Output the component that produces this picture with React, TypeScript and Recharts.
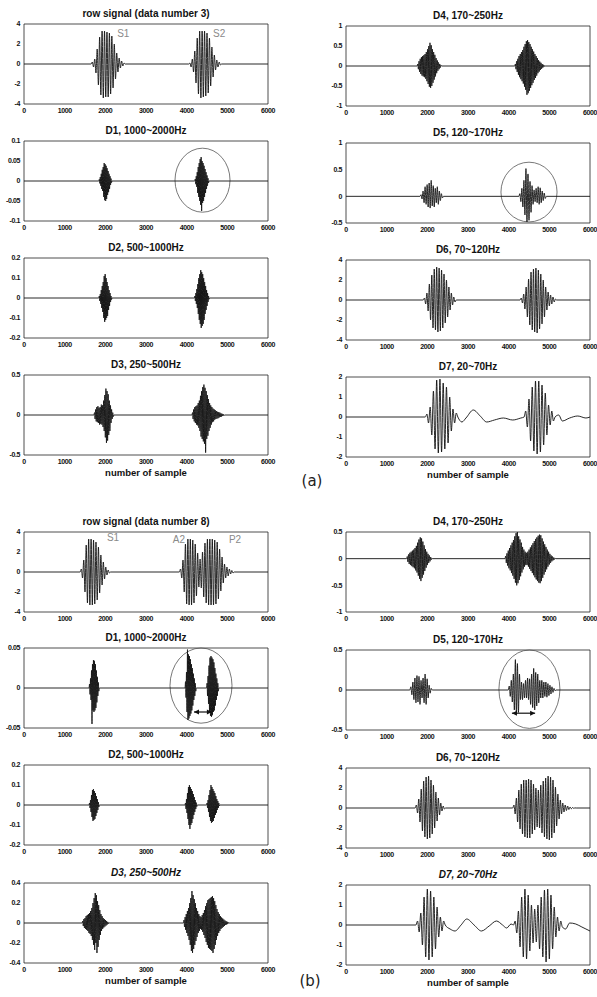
import { LineChart, Line, XAxis, YAxis, ReferenceArea, ReferenceLine, ReferenceDot } from 'recharts'

// [first sample, sample step]
type Burst = [number, number, number[]]
type Pt = [number, number]

const X_TICKS = [0, 1000, 2000, 3000, 4000, 5000, 6000]

// ---------- (a) data number 3 ----------
const rawA: Burst[] = [
  [1650, 30, [0, 0.2, -0.3, 0.5, -0.9, 1.5, -2.1, 2.7, -3.1, 3.3, -3.4, 3.3, -3.3, 3.2, -3.3, 3.1, -3.0, 2.8, -2.4, 2.0, -1.5, 1.1, -0.8, 0.6, -0.4, 0.3, -0.2, 0.1, 0]],
  [4050, 30, [0, 0.1, -0.3, 0.5, -0.8, 1.3, -1.9, 2.6, -3.0, 3.3, -3.4, 3.3, -3.3, 3.3, -3.2, 3.1, -2.9, 2.6, -2.2, 1.7, -1.3, 0.9, -0.6, 0.4, -0.3, 0.2, -0.1, 0]],
]
const d1A: Burst[] = [
  [1840, 12, [0, 0.004, -0.006, 0.01, -0.012, 0.018, -0.02, 0.028, -0.025, 0.035, -0.04, 0.045, -0.048, 0.042, -0.05, 0.038, -0.045, 0.032, -0.035, 0.025, -0.028, 0.018, -0.02, 0.012, -0.01, 0.006, -0.004, 0]],
  [4200, 12, [0, 0.005, -0.008, 0.012, -0.015, 0.022, -0.03, 0.035, -0.04, 0.045, -0.05, 0.055, -0.06, 0.06, -0.075, 0.05, -0.055, 0.045, -0.05, 0.038, -0.04, 0.03, -0.03, 0.022, -0.02, 0.014, -0.012, 0.007, -0.005, 0]],
]
const d2A: Burst[] = [
  [1840, 12, [0, 0.01, -0.015, 0.02, -0.03, 0.04, -0.05, 0.06, -0.07, 0.08, -0.1, 0.11, -0.12, 0.12, -0.11, 0.1, -0.1, 0.08, -0.09, 0.06, -0.06, 0.04, -0.04, 0.025, -0.02, 0.01, -0.008, 0]],
  [4190, 12, [0, 0.01, -0.015, 0.025, -0.03, 0.045, -0.05, 0.07, -0.08, 0.1, -0.11, 0.12, -0.13, 0.14, -0.15, 0.13, -0.14, 0.12, -0.13, 0.1, -0.11, 0.08, -0.08, 0.06, -0.06, 0.04, -0.04, 0.025, -0.02, 0.01, -0.006, 0]],
]
const d3A: Burst[] = [
  [1720, 14, [0, 0.03, -0.05, 0.07, -0.08, 0.1, -0.09, 0.11, -0.1, 0.09, -0.12, 0.1, -0.11, 0.13, -0.12, 0.12, -0.15, 0.18, -0.2, 0.25, -0.28, 0.33, -0.35, 0.3, -0.32, 0.26, -0.25, 0.18, -0.2, 0.12, -0.1, 0.07, -0.05, 0.03, -0.02, 0]],
  [4130, 14, [0, 0.03, -0.05, 0.07, -0.08, 0.1, -0.1, 0.11, -0.12, 0.12, -0.13, 0.15, -0.16, 0.18, -0.2, 0.24, -0.27, 0.3, -0.3, 0.35, -0.33, 0.38, -0.36, 0.34, -0.47, 0.3, -0.3, 0.25, -0.26, 0.2, -0.2, 0.15, -0.16, 0.12, -0.12, 0.1, -0.09, 0.08, -0.08, 0.07, -0.06, 0.06, -0.05, 0.05, -0.045, 0.04, -0.04, 0.035, -0.03, 0.03, -0.025, 0.02, -0.02, 0.015, -0.012, 0.01, -0.008, 0]],
]
const d4A: Burst[] = [
  [1750, 15, [0, 0.05, -0.08, 0.12, -0.15, 0.18, -0.2, 0.22, -0.24, 0.25, -0.26, 0.27, -0.28, 0.3, -0.32, 0.35, -0.38, 0.42, -0.45, 0.5, -0.52, 0.58, -0.55, 0.52, -0.5, 0.42, -0.42, 0.35, -0.34, 0.28, -0.26, 0.2, -0.18, 0.14, -0.12, 0.09, -0.08, 0.05, -0.04, 0.02, 0]],
  [4150, 15, [0, 0.05, -0.08, 0.12, -0.15, 0.18, -0.22, 0.25, -0.28, 0.3, -0.33, 0.35, -0.38, 0.4, -0.44, 0.48, -0.52, 0.55, -0.6, 0.62, -0.72, 0.65, -0.68, 0.6, -0.62, 0.55, -0.55, 0.48, -0.48, 0.42, -0.42, 0.36, -0.35, 0.3, -0.3, 0.25, -0.24, 0.2, -0.18, 0.15, -0.14, 0.11, -0.1, 0.08, -0.07, 0.05, -0.04, 0.03, -0.02, 0.01, 0]],
]
const d5A: Burst[] = [
  [1820, 25, [0, 0.03, -0.05, 0.1, -0.12, 0.18, -0.15, 0.22, -0.2, 0.25, -0.22, 0.3, -0.18, 0.2, -0.2, 0.15, -0.12, 0.18, -0.15, 0.1, -0.08, 0.05, -0.03, 0]],
  [4250, 25, [0, 0.05, -0.1, 0.15, -0.2, 0.3, -0.35, 0.52, -0.48, 0.42, -0.45, 0.28, -0.3, 0.2, -0.15, 0.12, -0.1, 0.15, -0.12, 0.18, -0.15, 0.16, -0.12, 0.1, -0.08, 0.06, -0.04, 0]],
]
const d6A: Burst[] = [
  [1900, 30, [0, 0.2, -0.4, 0.7, -1.1, 1.6, -2.0, 2.5, -2.8, 3.1, -3.0, 3.3, -3.2, 3.2, -3.1, 3.0, -2.8, 2.6, -2.3, 2.0, -1.7, 1.3, -1.0, 0.7, -0.5, 0.3, -0.2, 0]],
  [4280, 30, [0, 0.2, -0.3, 0.6, -0.9, 1.3, -1.7, 2.1, -2.5, 2.8, -3.0, 3.1, -3.2, 3.2, -3.3, 3.0, -2.9, 2.6, -2.4, 2.0, -1.7, 1.3, -1.0, 0.8, -0.6, 0.5, -0.4, 0.3, -0.2, 0.1, 0]],
]
const d7A: Burst[] = [
  [1950, 40, [0, 0.15, -0.3, 0.5, -0.9, 1.3, -1.6, 1.85, -1.8, 1.9, -1.75, 1.7, -1.6, 1.5, -1.3, 1.0, -0.7, 0.4, -0.3, 0.2, 0]],
  [4380, 40, [0, 0.3, -0.5, 0.9, -1.2, 1.5, -1.7, 1.8, -1.85, 1.8, -1.75, 1.6, -1.4, 1.2, -0.9, 0.6, -0.4, 0.3, -0.2, 0]],
]
const d7AWave: Pt[] = [
  [2850, -0.25], [2950, -0.05], [3130, 0.35], [3300, 0.05], [3460, -0.25], [3650, -0.15], [3870, -0.05], [4100, -0.15], [4300, -0.05],
  [5230, 0.1], [5320, -0.2], [5500, -0.05], [5700, 0.05], [5900, -0.05],
]

// ---------- (b) data number 8 ----------
const rawB: Burst[] = [
  [1380, 30, [0, 0.3, -0.6, 1.2, -2.0, 2.7, -3.1, 3.3, -3.3, 3.3, -3.3, 3.2, -3.2, 3.0, -2.8, 2.5, -2.1, 1.7, -1.3, 1.0, -0.7, 0.5, -0.3, 0.2, -0.1, 0]],
  [3820, 30, [0, 0.3, -0.6, 1.2, -2.0, 2.8, -3.2, 3.3, -3.3, 3.3, -3.3, 3.2, -3.1, 2.8, -2.4, 1.9, -1.5, 1.3, -1.6, 2.0, -2.5, 2.9, -3.1, 3.3, -3.3, 3.3, -3.3, 3.3, -3.3, 3.2, -3.2, 3.0, -2.7, 2.3, -1.9, 1.5, -1.1, 0.8, -0.6, 0.5, -0.4, 0.3, -0.2, 0.15, -0.1, 0]],
]
const d1B: Burst[] = [
  [1600, 12, [0, 0.005, -0.008, 0.012, -0.015, 0.022, -0.045, 0.03, -0.028, 0.035, -0.03, 0.034, -0.028, 0.03, -0.025, 0.022, -0.018, 0.014, -0.01, 0.007, -0.004, 0]],
  [3960, 12, [0, 0.008, -0.012, 0.02, -0.03, 0.048, -0.04, 0.042, -0.038, 0.04, -0.035, 0.036, -0.032, 0.03, -0.028, 0.025, -0.022, 0.018, -0.015, 0.012, -0.01, 0.006, -0.004, 0]],
  [4490, 12, [0, 0.006, -0.01, 0.015, -0.02, 0.028, -0.03, 0.038, -0.035, 0.04, -0.036, 0.038, -0.034, 0.036, -0.03, 0.032, -0.028, 0.025, -0.022, 0.018, -0.015, 0.012, -0.01, 0.006, -0.004, 0]],
]
const d2B: Burst[] = [
  [1600, 12, [0, 0.01, -0.015, 0.025, -0.035, 0.05, -0.06, 0.075, -0.08, 0.08, -0.075, 0.07, -0.07, 0.06, -0.055, 0.045, -0.04, 0.03, -0.025, 0.015, -0.01, 0]],
  [3960, 12, [0, 0.01, -0.02, 0.03, -0.04, 0.06, -0.07, 0.09, -0.1, 0.1, -0.12, 0.09, -0.1, 0.08, -0.09, 0.07, -0.07, 0.055, -0.05, 0.04, -0.035, 0.025, -0.02, 0.012, -0.008, 0]],
  [4490, 12, [0, 0.01, -0.015, 0.025, -0.035, 0.05, -0.06, 0.075, -0.08, 0.1, -0.09, 0.09, -0.085, 0.08, -0.08, 0.07, -0.065, 0.06, -0.05, 0.045, -0.04, 0.03, -0.025, 0.02, -0.015, 0.01, -0.005, 0]],
]
const d3B: Burst[] = [
  [1430, 14, [0, 0.02, -0.03, 0.04, -0.05, 0.05, -0.06, 0.07, -0.07, 0.08, -0.08, 0.09, -0.1, 0.1, -0.11, 0.12, -0.13, 0.15, -0.17, 0.2, -0.22, 0.25, -0.27, 0.3, -0.2, 0.28, -0.3, 0.22, -0.24, 0.18, -0.17, 0.13, -0.12, 0.09, -0.08, 0.07, -0.06, 0.05, -0.045, 0.04, -0.035, 0.03, -0.025, 0.02, -0.015, 0.01, -0.008, 0.005, 0]],
  [3920, 14, [
    0, 0.03, -0.04, 0.06, -0.07, 0.09, -0.1, 0.12, -0.13, 0.15, -0.17, 0.2, -0.22, 0.25, -0.28, 0.32,
    -0.3, 0.28, -0.26, 0.24, -0.22, 0.2, -0.18, 0.15, -0.14, 0.12, -0.1, 0.09, -0.08, 0.07, -0.06,
    0.06, -0.07, 0.08, -0.09, 0.1, -0.12, 0.13, -0.15, 0.17, -0.19, 0.2, -0.22, 0.23, -0.25, 0.24,
    -0.26, 0.25, -0.27, 0.26, -0.28, 0.27, -0.3, 0.25, -0.26, 0.22, -0.22, 0.18, -0.17, 0.14, -0.13,
    0.11, -0.1, 0.09, -0.08, 0.07, -0.06, 0.055, -0.05, 0.045, -0.04, 0.035, -0.03, 0.025, -0.02, 0.018, -0.015, 0.012, -0.01, 0.006, 0,
  ]],
]
const d4B: Burst[] = [
  [1490, 16, [0, 0.04, -0.06, 0.08, -0.1, 0.11, -0.12, 0.13, -0.14, 0.15, -0.16, 0.17, -0.18, 0.2, -0.22, 0.24, -0.26, 0.3, -0.32, 0.36, -0.38, 0.4, -0.42, 0.38, -0.36, 0.32, -0.3, 0.25, -0.23, 0.18, -0.17, 0.13, -0.12, 0.09, -0.08, 0.06, -0.05, 0.03, -0.02, 0.01, 0]],
  [3910, 16, [
    0, 0.05, -0.08, 0.1, -0.13, 0.15, -0.18, 0.2, -0.22, 0.25, -0.27, 0.3, -0.32, 0.35, -0.38, 0.42, -0.45, 0.48,
    -0.5, 0.5, -0.46, 0.42, -0.4, 0.36, -0.33, 0.3, -0.26, 0.22, -0.2, 0.17, -0.15, 0.13, -0.12, 0.11,
    -0.12, 0.13, -0.15, 0.17, -0.19, 0.21, -0.23, 0.25, -0.27, 0.29, -0.31, 0.33, -0.35, 0.37, -0.39, 0.4, -0.42, 0.43, -0.45, 0.45, -0.46, 0.44,
    -0.42, 0.38, -0.36, 0.32, -0.3, 0.27, -0.25, 0.22, -0.2, 0.17, -0.15, 0.13, -0.11, 0.09, -0.08, 0.06, -0.05, 0.04, -0.03, 0.02, -0.015, 0.01, 0,
  ]],
]
const d5B: Burst[] = [
  [1570, 25, [0, 0.04, -0.06, 0.1, -0.12, 0.15, -0.16, 0.18, -0.15, 0.17, -0.18, 0.12, -0.1, 0.15, -0.16, 0.2, -0.18, 0.14, -0.1, 0.06, -0.04, 0.02, 0]],
  [3990, 25, [
    0, 0.05, -0.08, 0.12, -0.15, 0.2, -0.25, 0.38,
    -0.3, 0.33, -0.28, 0.2, -0.12, 0.1, -0.12, 0.08,
    -0.1, 0.12, -0.1, 0.15, -0.12, 0.14, -0.18, 0.2,
    -0.22, 0.27, -0.25, 0.22, -0.2, 0.2, -0.16, 0.12,
    -0.1, 0.12, -0.1, 0.1, -0.08, 0.1, -0.09, 0.08, -0.07, 0.06, -0.05, 0.04, -0.03, 0.02, -0.01, 0,
  ]],
]
const d6B: Burst[] = [
  [1700, 30, [0, 0.3, -0.5, 0.9, -1.4, 1.9, -2.3, 2.7, -2.9, 3.1, -3.1, 3.2, -3.0, 2.8, -2.6, 2.3, -2.0, 1.6, -1.3, 1.0, -0.7, 0.5, -0.3, 0.2, -0.1, 0]],
  [4100, 30, [
    0, 0.3, -0.6, 1.0, -1.4, 1.8, -2.1, 2.4, -2.6, 2.8, -2.9, 2.8, -3.0, 2.9, -3.0,
    2.8, -2.6, 2.4, -2.2, 2.0, -1.9, 1.8,
    -2.0, 2.3, -2.5, 2.7, -2.9, 3.0, -3.1, 3.2, -3.2, 3.1, -3.0, 2.8,
    -2.5, 2.1, -1.8, 1.4, -1.1, 0.8, -0.6, 0.5, -0.4, 0.3, -0.25, 0.2, -0.15, 0.1, -0.08, 0.05, -0.03, 0.01, 0,
  ]],
]
const d7B: Burst[] = [
  [1720, 40, [0, 0.2, -0.35, 0.6, -1.0, 1.4, -1.6, 1.8, -1.75, 1.7, -1.6, 1.4, -1.2, 0.9, -0.6, 0.4, -0.3, 0.2, 0]],
  [4120, 40, [0, 0.2, -0.4, 0.7, -1.1, 1.4, -1.6, 1.8, -1.7, 1.5, -1.3, 1.0, -0.9, 0.8, -0.85, 1.0, -1.2, 1.4, -1.6, 1.75, -1.85, 1.8, -1.7, 1.5, -1.2, 0.9, -0.6, 0.4, -0.3, 0.2, -0.1]],
]
const d7BWave: Pt[] = [
  [2560, -0.2], [2680, -0.3], [2830, 0.0], [2970, 0.3], [3150, 0.0], [3330, -0.3], [3520, -0.05], [3700, 0.2], [3850, 0.0], [3950, -0.15], [4060, 0.05],
  [5400, -0.2], [5500, 0.1], [5650, 0.05], [5800, -0.1], [5900, -0.2], [6000, -0.3],
]

function toSeries(bursts: Burst[], extra: Pt[] = []) {
  const pts: Pt[] = [...extra]
  bursts.forEach(([start, step, vals]) => vals.forEach((v, i) => pts.push([start + i * step, v])))
  if (!pts.some((p) => p[0] === 0)) pts.push([0, 0])
  if (!pts.some((p) => p[0] === 6000)) pts.push([6000, 0])
  return pts.sort((a, b) => a[0] - b[0]).map(([x, y]) => ({ x, y }))
}

const BOX_W = 244
const BOX_H = 80
const Y_W = 24
const M_TOP = 6
const M_RIGHT = 14
const FONT = "'Liberation Sans', Arial, sans-serif"
const TICK = { fontSize: 7, fill: '#111', fontFamily: "'Liberation Sans Narrow', 'Liberation Sans', Arial, sans-serif", fontWeight: 'bold', letterSpacing: -0.4 }

const ringShape = (p: any) => (
  <ellipse
    cx={p.x + p.width / 2}
    cy={p.y + p.height / 2}
    rx={Math.abs(p.width) / 2}
    ry={Math.abs(p.height) / 2}
    fill="none"
    stroke="#555"
    strokeWidth={0.8}
  />
)

const arrowShape = (p: any) => {
  const { x1, y1, x2, y2 } = p
  return (
    <g>
      <line x1={x1} y1={y1} x2={x2} y2={y2} stroke="#111" strokeWidth={1.2} />
      <path d={`M${x1},${y1} l5,-2.5 v5 z`} fill="#111" />
      <path d={`M${x2},${y2} l-5,-2.5 v5 z`} fill="#111" />
    </g>
  )
}

interface PanelProps {
  left: number
  top: number
  title: string
  italic?: boolean
  data: { x: number; y: number }[]
  yDomain: [number, number]
  yTicks: number[]
  ring?: [number, number, number, number]
  arrow?: [number, number, number]
  notes?: [string, number, number][]
  xLabel?: boolean
}

function Panel({ left, top, title, italic, data, yDomain, yTicks, ring, arrow, notes, xLabel }: PanelProps) {
  return (
    <>
      <div
        style={{
          position: 'absolute', left, top: top - 16, width: BOX_W, textAlign: 'center',
          fontFamily: FONT, fontSize: 10, fontWeight: 'bold', fontStyle: italic ? 'italic' : 'normal',
          lineHeight: '12px', color: '#111', whiteSpace: 'nowrap',
        }}
      >
        {title}
      </div>
      <div style={{ position: 'absolute', left: left - Y_W, top: top - M_TOP }}>
        <LineChart width={Y_W + BOX_W + M_RIGHT} height={M_TOP + BOX_H + 14} data={data} margin={{ top: M_TOP, right: M_RIGHT, bottom: 0, left: 0 }}>
          <XAxis dataKey="x" type="number" domain={[0, 6000]} ticks={X_TICKS} interval={0} height={14}
            axisLine={false} tickLine={false} tickSize={3} tickMargin={1} tick={TICK} allowDataOverflow />
          <YAxis type="number" domain={yDomain} ticks={yTicks} interval={0} width={Y_W}
            axisLine={false} tickLine={false} tickSize={3} tickMargin={1} tick={TICK} allowDataOverflow />
          <ReferenceArea x1={0} x2={6000} y1={yDomain[0]} y2={yDomain[1]} fill="none" stroke="#222" strokeWidth={0.8} />
          <Line dataKey="y" type="monotone" dot={false} stroke="#111" strokeWidth={0.9} isAnimationActive={false} />
          {ring && <ReferenceArea x1={ring[0]} x2={ring[1]} y1={ring[2]} y2={ring[3]} shape={ringShape} />}
          {arrow && (
            <ReferenceLine segment={[{ x: arrow[0], y: arrow[2] }, { x: arrow[1], y: arrow[2] }]} shape={arrowShape} />
          )}
          {notes?.map(([label, x, y]) => (
            <ReferenceDot key={label} x={x} y={y} r={0}
              shape={(p: any) => (
                <text x={p.cx} y={p.cy} fontSize={10} fill="#8a8a8a" fontFamily={FONT} dominantBaseline="middle">{label}</text>
              )}
            />
          ))}
        </LineChart>
      </div>
      {xLabel && (
        <div
          style={{
            position: 'absolute', left, top: top + BOX_H + 12, width: BOX_W, textAlign: 'center',
            fontFamily: FONT, fontSize: 9.5, fontWeight: 'bold', lineHeight: '12px', color: '#111',
          }}
        >
          number of sample
        </div>
      )}
    </>
  )
}

const L = 24
const R = 346

export default function App() {
  return (
    <div style={{ position: 'absolute', left: 0, top: 0, width: 597, height: 997, background: '#fff', overflow: 'hidden' }}>
      {/* (a) */}
      <Panel left={L} top={24} title="row signal (data number 3)" data={toSeries(rawA)} yDomain={[-4, 4]} yTicks={[-4, -2, 0, 2, 4]}
        notes={[['S1', 2290, 3.0], ['S2', 4650, 3.0]]} />
      <Panel left={L} top={141} title="D1, 1000~2000Hz" data={toSeries(d1A)} yDomain={[-0.1, 0.1]} yTicks={[-0.1, -0.05, 0, 0.05, 0.1]}
        ring={[3713, 5066, -0.078, 0.082]} />
      <Panel left={L} top={258} title="D2, 500~1000Hz" data={toSeries(d2A)} yDomain={[-0.2, 0.2]} yTicks={[-0.2, -0.1, 0, 0.1, 0.2]} />
      <Panel left={L} top={375} title="D3, 250~500Hz" data={toSeries(d3A)} yDomain={[-0.5, 0.5]} yTicks={[-0.5, 0, 0.5]} xLabel />

      <Panel left={R} top={26} title="D4, 170~250Hz" data={toSeries(d4A)} yDomain={[-1, 1]} yTicks={[-1, -0.5, 0, 0.5, 1]} />
      <Panel left={R} top={143} title="D5, 120~170Hz" data={toSeries(d5A)} yDomain={[-0.5, 1]} yTicks={[-0.5, 0, 0.5, 1]}
        ring={[3810, 5190, -0.48, 0.64]} />
      <Panel left={R} top={260} title="D6, 70~120Hz" data={toSeries(d6A)} yDomain={[-4, 4]} yTicks={[-4, -2, 0, 2, 4]} />
      <Panel left={R} top={377} title="D7, 20~70Hz" data={toSeries(d7A, d7AWave)} yDomain={[-2, 2]} yTicks={[-2, -1, 0, 1, 2]} xLabel />

      <div style={{ position: 'absolute', left: 292, top: 472, width: 40, textAlign: 'center', fontFamily: "'DejaVu Sans', sans-serif", fontSize: 15, color: '#222' }}>(a)</div>

      {/* (b) */}
      <Panel left={L} top={532} title="row signal (data number 8)" data={toSeries(rawB)} yDomain={[-4, 4]} yTicks={[-4, -2, 0, 2, 4]}
        notes={[['S1', 2040, 3.4], ['A2', 3660, 3.2], ['P2', 5040, 3.2]]} />
      <Panel left={L} top={648} title="D1, 1000~2000Hz" data={toSeries(d1B)} yDomain={[-0.05, 0.05]} yTicks={[-0.05, 0, 0.05]}
        ring={[3590, 5115, -0.044, 0.05]} arrow={[4180, 4620, -0.03]} />
      <Panel left={L} top={765} title="D2, 500~1000Hz" data={toSeries(d2B)} yDomain={[-0.2, 0.2]} yTicks={[-0.2, -0.1, 0, 0.1, 0.2]} />
      <Panel left={L} top={883} title="D3, 250~500Hz" italic data={toSeries(d3B)} yDomain={[-0.4, 0.4]} yTicks={[-0.4, -0.2, 0, 0.2, 0.4]} xLabel />

      <Panel left={R} top={532} title="D4, 170~250Hz" data={toSeries(d4B)} yDomain={[-1, 0.5]} yTicks={[-1, -0.5, 0, 0.5]} />
      <Panel left={R} top={650} title="D5, 120~170Hz" data={toSeries(d5B)} yDomain={[-0.5, 0.5]} yTicks={[-0.5, 0, 0.5]}
        ring={[3760, 5260, -0.48, 0.5]} arrow={[4080, 4650, -0.29]} />
      <Panel left={R} top={768} title="D6, 70~120Hz" data={toSeries(d6B)} yDomain={[-4, 4]} yTicks={[-4, -2, 0, 2, 4]} />
      <Panel left={R} top={885} title="D7, 20~70Hz" italic data={toSeries(d7B, d7BWave)} yDomain={[-2, 2]} yTicks={[-2, -1, 0, 1, 2]} xLabel />

      <div style={{ position: 'absolute', left: 290, top: 972, width: 40, textAlign: 'center', fontFamily: "'DejaVu Sans', sans-serif", fontSize: 15, color: '#222' }}>(b)</div>
    </div>
  )
}
